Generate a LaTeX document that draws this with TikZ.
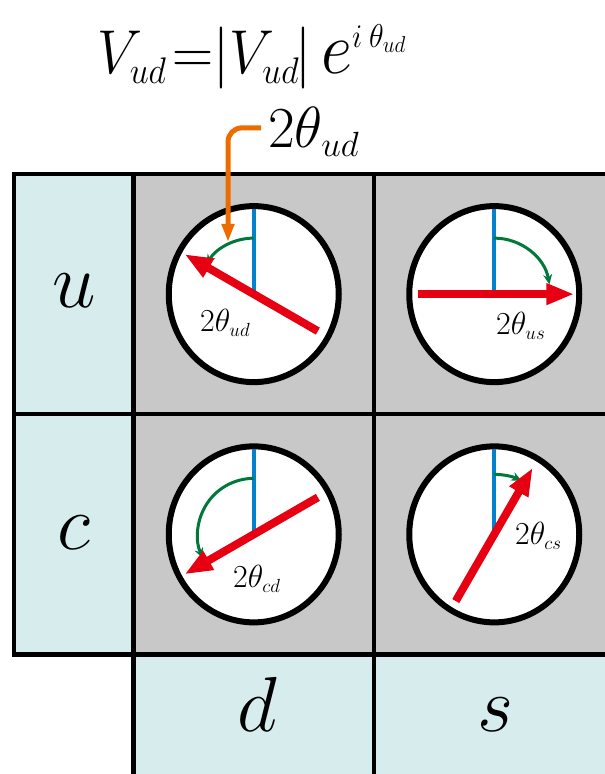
\RequirePackage{fix-cm}
\documentclass[tikz,border=0pt]{standalone}
\usepackage{graphicx}
\usetikzlibrary{arrows.meta,shapes.geometric}
\DeclareMathSizes{62}{62}{37}{29}
\DeclareMathSizes{74}{74}{33}{23}
\DeclareMathSizes{58}{58}{35}{28}
\DeclareMathSizes{32}{32}{19}{16}
\definecolor{cellgray}{RGB}{200,200,200}
\definecolor{cellcyan}{RGB}{215,236,236}
\definecolor{vred}{RGB}{230,0,18}
\definecolor{vblue}{RGB}{0,130,204}
\definecolor{vgreen}{RGB}{0,120,60}
\definecolor{vorange}{RGB}{237,108,0}
\tikzset{
  cellbox/.style={inner sep=0pt, outer sep=0pt, minimum height=240.25pt},
  widecell/.style={cellbox, minimum width=240.5pt},
  narrowcell/.style={cellbox, minimum width=119.5pt},
  gridline/.style={draw=black, line width=4.5pt},
  dial/.style={ellipse, draw=black, fill=white, line width=6pt, minimum width=170pt, minimum height=176pt, inner sep=0pt},
  redarrow/.style={draw=vred, line width=8pt, -{Triangle[length=28pt,width=20pt]}},
  blueline/.style={draw=vblue, line width=4pt},
  greenarc/.style={draw=vgreen, line width=3pt, -{Stealth[length=10pt,width=9pt]}},
  orangearrow/.style={draw=vorange, line width=5pt, rounded corners=14pt, -{Triangle[length=18pt,width=12pt]}},
  biglabel/.style={inner sep=0pt, anchor=base, font=\fontsize{78}{80}\selectfont},
  anglabel/.style={inner sep=0pt, anchor=base west, font=\fontsize{32}{34}\selectfont}
}
\begin{document}
\begin{tikzpicture}[x=1pt,y=1pt]
\useasboundingbox (0,0) rectangle (605,774);
\clip (0,0) rectangle (605,774);
% cell fills
\node[narrowcell, fill=cellcyan] (lu) at (73.75,479.875) {};
\node[narrowcell, fill=cellcyan] (lc) at (73.75,239.625) {};
\node[widecell, fill=cellgray] (ud) at (253.75,479.875) {};
\node[widecell, fill=cellgray] (us) at (494.25,479.875) {};
\node[widecell, fill=cellgray] (cd) at (253.75,239.625) {};
\node[widecell, fill=cellgray] (cs) at (494.25,239.625) {};
\node[widecell, fill=cellcyan] (bd) at (253.75,-0.625) {};
\node[widecell, fill=cellcyan] (bs) at (494.25,-0.625) {};
% cell borders
\foreach \c in {lu,lc,ud,us,cd,cs,bd,bs}
  \draw[gridline] (\c.south west) rectangle (\c.north east);
% row and column labels
\node[biglabel] (tu) at (74,466) {$u$};
\node[biglabel] (tc) at (73.5,224) {$c$};
\node[biglabel] (td) at (257,42) {$d$};
\node[biglabel] (ts) at (495,42) {$s$};
% dials
\foreach \c in {ud,us,cd,cs}
  \node[dial] (d\c) at (\c.center) {};
% blue reference lines
\foreach \c in {ud,us,cd,cs}
  \draw[blueline] (d\c.center) -- ([yshift=85pt]d\c.center);
% green arcs
\draw[greenarc] ([shift={(90:56)}]dud.center) arc[start angle=90, end angle=148, radius=56];
\draw[greenarc] ([shift={(90:56)}]dus.center) arc[start angle=90, end angle=10, radius=56];
\draw[greenarc] ([shift={(90:56)}]dcd.center) arc[start angle=90, end angle=205, radius=56];
\draw[greenarc] ([shift={(90:60)}]dcs.center) arc[start angle=90, end angle=63, radius=60];
% red phase arrows
\draw[redarrow] ([shift={(-30:74)}]dud.center) -- ([shift={(150:80)}]dud.center);
\draw[redarrow] ([shift={(180:76)}]dus.center) -- ([shift={(0:80)}]dus.center);
\draw[redarrow] ([shift={(30:74)}]dcd.center) -- ([shift={(210:80)}]dcd.center);
\draw[redarrow] ([shift={(240:77)}]dcs.center) -- ([shift={(60:77)}]dcs.center);
% angle labels
\node[anglabel] (lud) at (200,442) {$2\theta_{ud}$};
\node[anglabel] (lus) at (496,439) {$2\theta_{us}$};
\node[anglabel] (lcd) at (233,186) {$2\theta_{cd}$};
\node[anglabel] (lcs) at (515,229) {$2\theta_{cs}$};
% formula and callout
\node[inner sep=0pt, anchor=base west, font=\fontsize{62}{64}\selectfont] (formula) at (97,700)
  {\scalebox{0.92}[1]{$V_{ud}\mkern2mu{=}|V_{ud}\mkern-1mu|\mkern3mu\hbox{\fontsize{74}{76}\selectfont$e^{i\mkern4mu\theta_{ud}}$}$}};
\node[inner sep=0pt, anchor=base west, text depth=0pt, font=\fontsize{58}{60}\selectfont] (callout) at (268,626) {$2\theta_{ud}$};
\coordinate (otip) at (228,532);
\draw[orangearrow, shorten <=7pt] (callout.west) -| (otip);
\end{tikzpicture}
\end{document}
